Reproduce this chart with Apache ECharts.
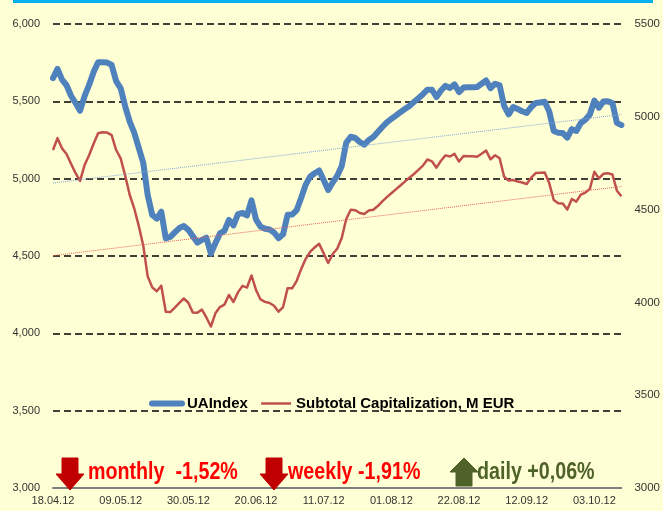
<!DOCTYPE html>
<html>
<head>
<meta charset="utf-8">
<script src="https://cdn.jsdelivr.net/npm/echarts@6/dist/echarts.min.js"></script>
<style>
  html, body { margin: 0; padding: 0; background: #FFFFD5; }
  #chart { width: 663px; height: 511px; }
</style>
</head>
<body>
<div id="chart"></div>
<script>
// trading days 18.04.12 .. 11.10.12 (weekdays)
const startDay = Date.UTC(2012, 3, 18)
const endDay = Date.UTC(2012, 9, 11)

// UAIndex, left axis
const uaIndex = [
  5650, 5710, 5640, 5604, 5536, 5489, 5440, 5534, 5606, 5689,
  5753, 5753, 5751, 5735, 5631, 5584, 5468, 5369, 5297, 5201,
  5103, 4893, 4765, 4742, 4786, 4614, 4623, 4652, 4681, 4694,
  4669, 4628, 4587, 4604, 4618, 4515, 4583, 4646, 4663, 4733,
  4698, 4771, 4778, 4762, 4860, 4736, 4690, 4676, 4671, 4652,
  4615, 4640, 4766, 4768, 4796, 4875, 4960, 5013, 5035, 5053,
  4991, 4927, 4975, 5018, 5082, 5232, 5271, 5263, 5237, 5220,
  5250, 5269, 5302, 5334, 5364, 5386, 5408, 5430, 5450, 5470,
  5496, 5520, 5546, 5575, 5575, 5528, 5570, 5600, 5586, 5610,
  5560, 5589, 5591, 5591, 5593, 5614, 5635, 5585, 5614, 5603,
  5471, 5416, 5463, 5450, 5436, 5425, 5463, 5489, 5493, 5497,
  5434, 5308, 5297, 5295, 5265, 5320, 5308, 5360, 5381, 5415,
  5505, 5459, 5499, 5500, 5489, 5361, 5346
]

// Subtotal Capitalization, M EUR, right axis
const capitalization = [
  4821, 4885, 4830, 4800, 4747, 4696, 4655, 4740, 4793, 4855,
  4911, 4917, 4915, 4901, 4821, 4776, 4683, 4580, 4507, 4414,
  4307, 4139, 4081, 4060, 4090, 3950, 3948, 3972, 3997, 4021,
  3998, 3945, 3944, 3961, 3919, 3870, 3941, 3975, 3988, 4040,
  4002, 4054, 4089, 4080, 4145, 4067, 4016, 4003, 3997, 3982,
  3950, 3975, 4076, 4076, 4115, 4179, 4234, 4272, 4296, 4316,
  4264, 4212, 4261, 4289, 4347, 4449, 4499, 4497, 4482, 4476,
  4495, 4499, 4519, 4544, 4567, 4588, 4609, 4630, 4651, 4672,
  4692, 4714, 4737, 4770, 4760, 4726, 4763, 4792, 4786, 4800,
  4759, 4789, 4788, 4787, 4785, 4801, 4818, 4771, 4793, 4777,
  4677, 4657, 4659, 4651, 4646, 4638, 4672, 4697, 4699, 4700,
  4643, 4552, 4534, 4533, 4500, 4557, 4543, 4581, 4592, 4611,
  4704, 4668, 4693, 4696, 4689, 4602, 4572
]

// linear trend ends (first day, last day)
const trendUA = [4972, 5415]
const trendCap = [4252, 4625]

const leftAxis = { min: 3000, max: 6000, step: 500 }
const rightAxis = { min: 3000, max: 5500, step: 500 }

const changes = [
  { label: 'monthly  -1,52%', dir: 'down' },
  { label: 'weekly -1,91%', dir: 'down' },
  { label: 'daily +0,06%', dir: 'up' },
]

function pad(n) { return n < 10 ? '0' + n : '' + n }

const dates = []
for (let t = startDay; t <= endDay; t += 86400000) {
  const d = new Date(t)
  const wd = d.getUTCDay()
  if (wd === 0 || wd === 6) continue
  dates.push(pad(d.getUTCDate()) + '.' + pad(d.getUTCMonth() + 1) + '.' + String(d.getUTCFullYear()).slice(2))
}

const FONT = "'Liberation Sans', Arial, sans-serif"
const BLUE = '#4F81BD'
const BROWN_RED = '#C0504D'
const RED = '#FF0000'
const DARK_RED = '#C00000'
const GREEN = '#4F6228'

function arrow(x, dir, color) {
  const top = 458, bottom = 490, neck = 474
  const pts = dir === 'down'
    ? [[x + 5, top], [x + 21, top], [x + 21, neck], [x + 27, neck], [x + 13, bottom], [x - 1, neck], [x + 5, neck]]
    : [[x + 13, top], [x + 27, neck - 2], [x + 21, neck - 2], [x + 21, bottom - 4], [x + 5, bottom - 4], [x + 5, neck - 2], [x - 1, neck - 2]]
  return {
    type: 'polygon',
    shape: { points: pts },
    style: { fill: color, stroke: color, lineWidth: 1 },
    z: 100,
  }
}

const arrowX = [57, 261, 451]
const textX = [88, 288, 477]
const graphics = [
  { type: 'rect', shape: { x: 13, y: 0, width: 640, height: 3 }, style: { fill: '#00B0F0' } },
]
changes.forEach((c, i) => {
  const color = c.dir === 'down' ? DARK_RED : GREEN
  graphics.push(arrow(arrowX[i], c.dir, color))
  // condensed look: squeeze the bold text horizontally
  graphics.push({
    type: 'text',
    x: textX[i],
    y: 472,
    scaleX: 0.82,
    z: 100,
    style: {
      text: c.label,
      fill: c.dir === 'down' ? RED : GREEN,
      font: 'bold 24px ' + FONT,
      verticalAlign: 'middle',
    },
  })
})

const chart = echarts.init(document.getElementById('chart'))

const option = {
  backgroundColor: '#FFFFD5',
  animation: false,
  grid: { left: 53, right: 40, top: 24, bottom: 23 },
  legend: {
    data: [
      { name: 'UAIndex', lineStyle: { color: BLUE, width: 6, cap: 'round' } },
      { name: 'Subtotal Capitalization, M EUR', lineStyle: { color: BROWN_RED, width: 2.5 } },
    ],
    left: 144,
    top: 391,
    itemWidth: 30,
    itemHeight: 2,
    itemGap: 12,
    itemStyle: { opacity: 0 },
    textStyle: { fontFamily: FONT, fontSize: 15, fontWeight: 'bold', color: '#000' },
  },
  xAxis: {
    type: 'category',
    data: dates,
    boundaryGap: false,
    axisLine: { lineStyle: { color: '#7F7F7F', width: 2 } },
    axisTick: { show: false },
    axisLabel: { interval: 14, color: '#333', fontFamily: FONT, fontSize: 11, margin: 7 },
  },
  yAxis: [
    {
      type: 'value',
      min: leftAxis.min,
      max: leftAxis.max,
      interval: leftAxis.step,
      axisLine: { show: false },
      axisTick: { show: false },
      axisLabel: {
        color: '#333', fontFamily: FONT, fontSize: 11, margin: 13,
        formatter: v => v.toLocaleString('en-US'),
      },
      splitLine: { lineStyle: { color: '#000', type: [7, 4], width: 1.5 } },
    },
    {
      type: 'value',
      min: rightAxis.min,
      max: rightAxis.max,
      interval: rightAxis.step,
      axisLine: { show: false },
      axisTick: { show: false },
      axisLabel: { color: '#333', fontFamily: FONT, fontSize: 11.5, margin: 13, formatter: v => String(v) },
      splitLine: { show: false },
    },
  ],
  series: [
    {
      name: 'UAIndex',
      type: 'line',
      data: uaIndex,
      symbol: 'none',
      lineStyle: { color: BLUE, width: 6, cap: 'round', join: 'round' },
      itemStyle: { color: BLUE },
      z: 3,
    },
    {
      name: 'Subtotal Capitalization, M EUR',
      type: 'line',
      yAxisIndex: 1,
      data: capitalization,
      symbol: 'none',
      lineStyle: { color: BROWN_RED, width: 2.5, join: 'round' },
      itemStyle: { color: BROWN_RED },
      z: 4,
    },
    {
      name: 'trend UAIndex',
      type: 'line',
      data: [[dates[0], trendUA[0]], [dates[dates.length - 1], trendUA[1]]],
      symbol: 'none',
      silent: true,
      lineStyle: { color: '#7FA6D8', width: 1, type: 'dotted' },
      z: 5,
    },
    {
      name: 'trend Capitalization',
      type: 'line',
      yAxisIndex: 1,
      data: [[dates[0], trendCap[0]], [dates[dates.length - 1], trendCap[1]]],
      symbol: 'none',
      silent: true,
      lineStyle: { color: '#E8605C', width: 1, type: 'dotted' },
      z: 5,
    },
  ],
  graphic: graphics,
}

chart.setOption(option)
</script>
</body>
</html>
